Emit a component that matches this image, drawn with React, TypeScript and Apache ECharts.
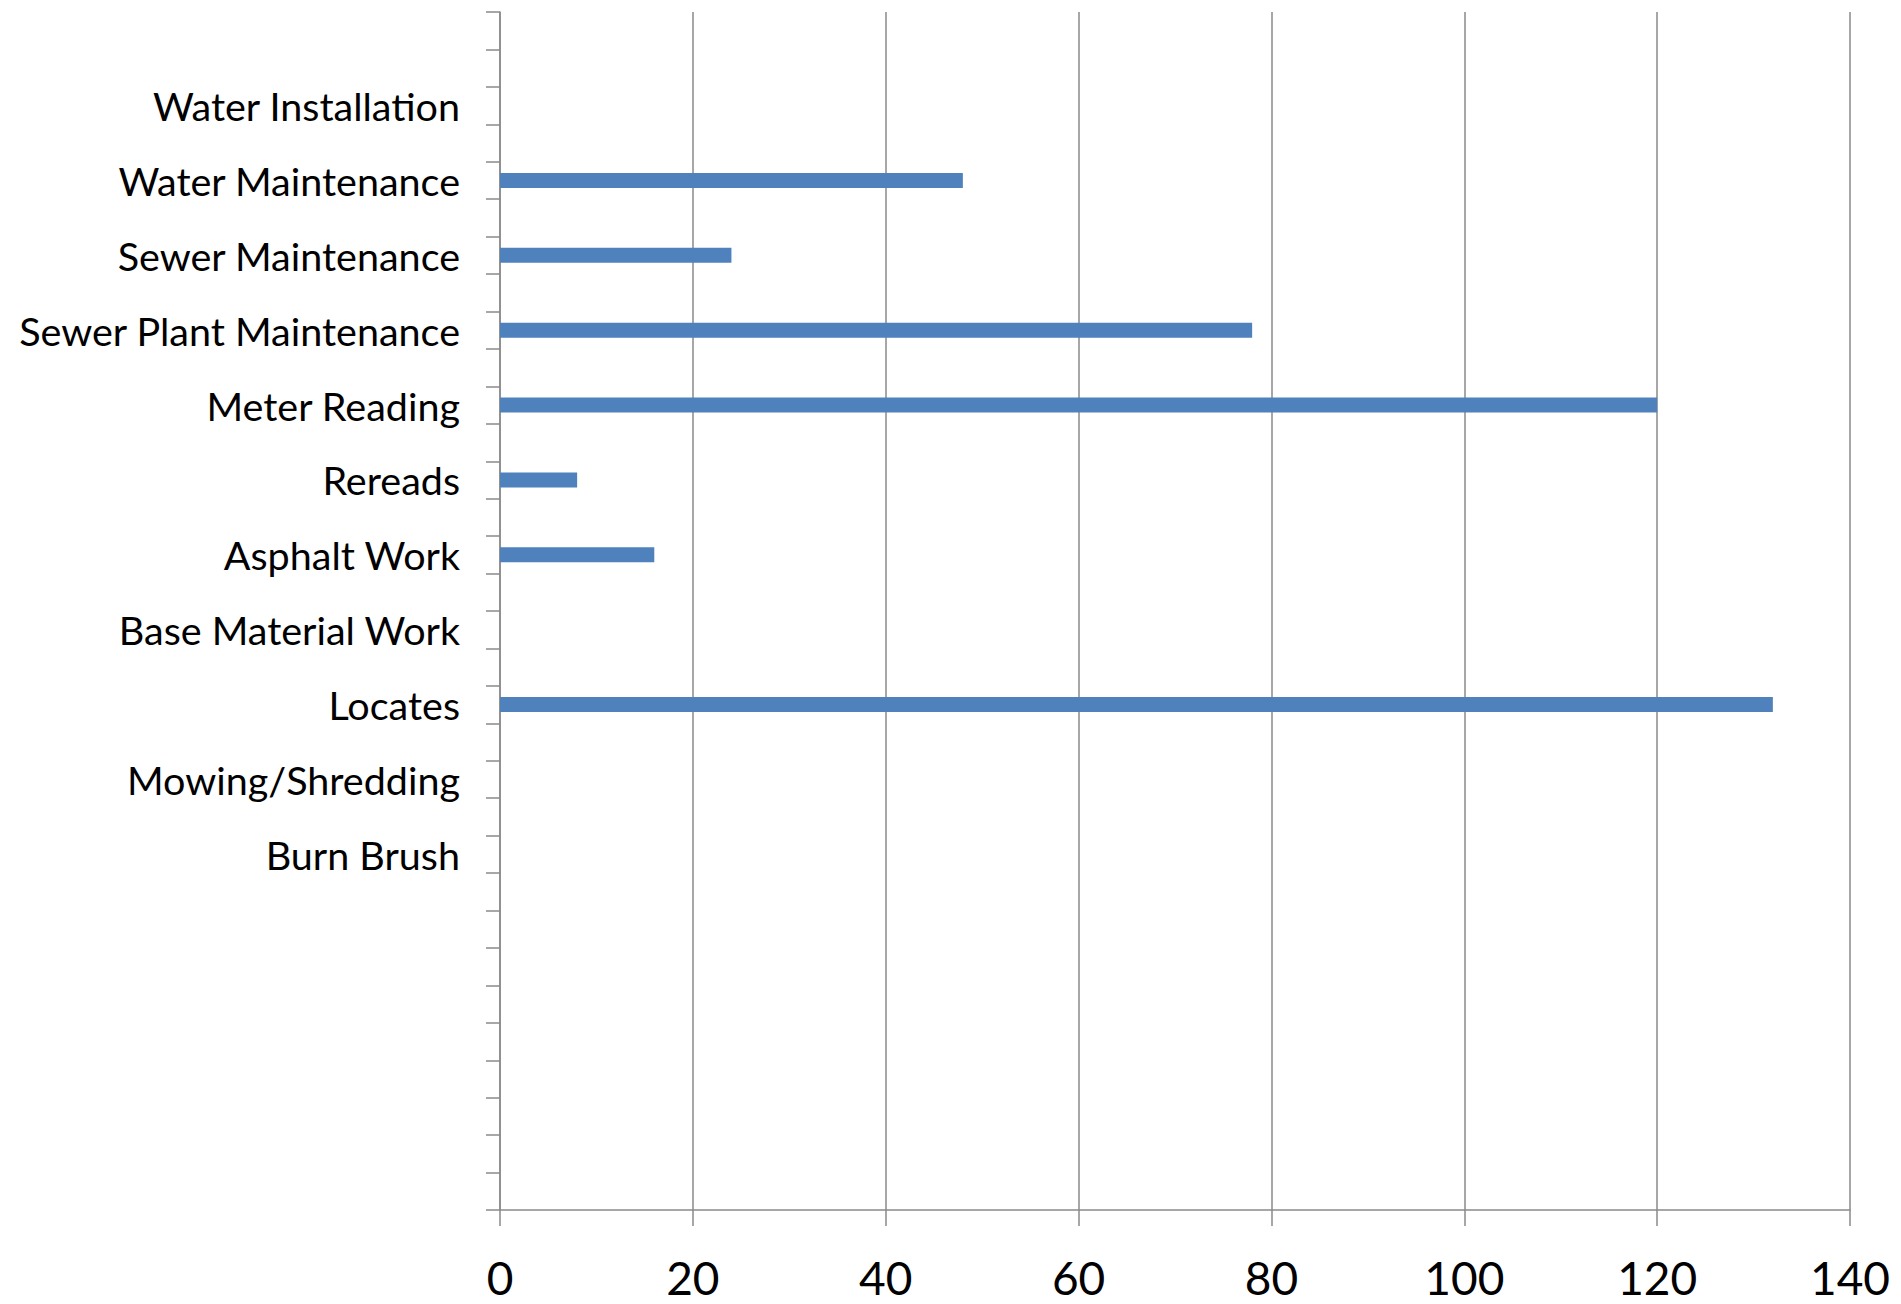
import React, { useEffect, useRef } from "react";
import * as echarts from "echarts";

const categories: string[] = [
  "", "", "Water Installation", "", "Water Maintenance", "", "Sewer Maintenance", "",
  "Sewer Plant Maintenance", "", "Meter Reading", "", "Rereads", "", "Asphalt Work", "",
  "Base Material Work", "", "Locates", "", "Mowing/Shredding", "", "Burn Brush", "",
  "", "", "", "", "", "", "", "",
];

const hours: (number | null)[] = [
  null, null, 0, null, 48, null, 24, null,
  78, null, 120, null, 8, null, 16, null,
  0, null, 132, null, 0, null, 0, null,
  null, null, null, null, null, null, null, null,
];

const xMin = 0;
const xMax = 140;
const xStep = 20;

export default function App() {
  const ref = useRef<HTMLDivElement>(null);
  useEffect(() => {
    if (!ref.current) return;
    const chart = echarts.init(ref.current, undefined, { renderer: "svg" });
    const axisGray = "#8a8a8a";
    chart.setOption({
      animation: false,
      backgroundColor: "#ffffff",
      grid: { left: 500, right: 51, top: 12, bottom: 94, containLabel: false },
      xAxis: {
        type: "value",
        min: xMin,
        max: xMax,
        interval: xStep,
        axisLine: { show: true, lineStyle: { color: axisGray, width: 1.5 } },
        axisTick: { show: true, length: 16, lineStyle: { color: axisGray, width: 1.5 } },
        splitLine: { show: true, lineStyle: { color: axisGray, width: 1.5 } },
        axisLabel: {
          color: "#000000",
          fontFamily: "Lato",
          fontSize: 46,
          lineHeight: 46,
          margin: 44,
        },
      },
      yAxis: {
        type: "category",
        inverse: true,
        data: categories,
        axisLine: { show: true, lineStyle: { color: axisGray, width: 1.5 } },
        axisTick: { show: true, length: 14, interval: 0, lineStyle: { color: axisGray, width: 1.5 } },
        splitLine: { show: false },
        axisLabel: {
          interval: 0,
          color: "#000000",
          fontFamily: "Lato",
          fontSize: 39.5,
          lineHeight: 40,
          margin: 40,
          padding: [0, 0, 8, 0],
        },
      },
      series: [
        {
          type: "bar",
          data: hours,
          barWidth: 15,
          itemStyle: { color: "#4F81BD" },
        },
      ],
    });
    return () => chart.dispose();
  }, []);
  return (
    <div
      ref={ref}
      style={{ position: "fixed", left: 0, top: 0, width: 1901, height: 1304 }}
    />
  );
}
